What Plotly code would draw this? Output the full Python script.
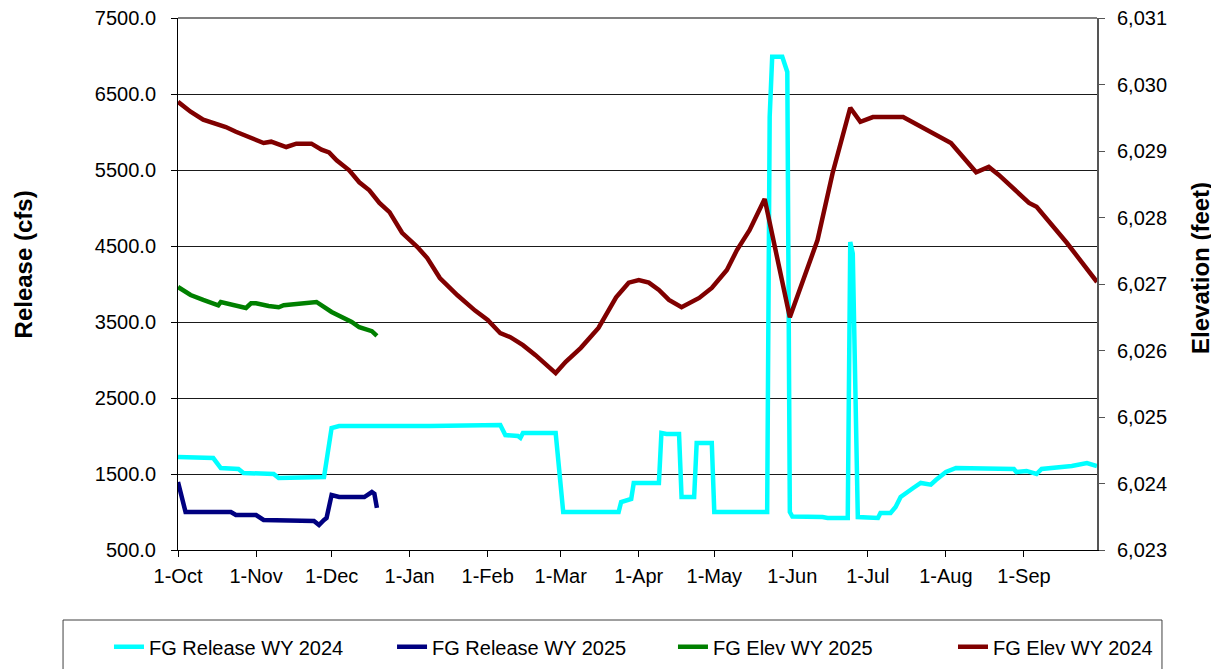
import plotly.graph_objects as go

# ---------------- data ----------------
rel24_dates = ["2023-10-01","2023-10-15","2023-10-18","2023-10-25","2023-10-27","2023-11-08","2023-11-10",
    "2023-11-27","2023-11-28","2023-12-01","2023-12-04","2024-01-09","2024-01-20","2024-02-06","2024-02-08",
    "2024-02-13","2024-02-14","2024-02-15","2024-02-28","2024-03-02","2024-03-24","2024-03-25","2024-03-29",
    "2024-03-30","2024-04-09","2024-04-10","2024-04-12","2024-04-17","2024-04-18","2024-04-23","2024-04-24",
    "2024-04-30","2024-05-01","2024-05-22","2024-05-23","2024-05-24","2024-05-28","2024-05-30","2024-05-31",
    "2024-06-01","2024-06-13","2024-06-15","2024-06-23","2024-06-24","2024-06-25","2024-06-27","2024-07-05",
    "2024-07-06","2024-07-10","2024-07-12","2024-07-14","2024-07-16","2024-07-19","2024-07-22","2024-07-26",
    "2024-07-28","2024-08-01","2024-08-05","2024-08-28","2024-08-29","2024-09-02","2024-09-06","2024-09-08",
    "2024-09-20","2024-09-26","2024-09-30"]
rel24_cfs = [1724,1710,1579,1566,1513,1500,1447,
    1447,1460,2105,2132,2132,2140,2145,2013,
    2000,1975,2040,2040,1000,1000,1131,1171,
    1381,1381,2040,2026,2026,1197,1197,1908,
    1908,1000,1000,6200,6990,6990,6790,1000,
    940,934,921,921,4553,4400,934,921,
    987,987,1066,1197,1250,1316,1382,1360,
    1421,1526,1579,1566,1526,1540,1500,1566,
    1605,1645,1605]

rel25_dates = ["2023-10-01","2023-10-03","2023-10-04","2023-10-22","2023-10-24","2023-11-01","2023-11-04",
    "2023-11-24","2023-11-26","2023-11-28","2023-11-29","2023-12-01","2023-12-04","2023-12-14","2023-12-17",
    "2023-12-18","2023-12-19"]
rel25_cfs = [1395,1118,1000,1000,960,960,895,
    882,829,895,921,1224,1197,1197,1263,
    1240,1053]

elev25_dates = ["2023-10-01","2023-10-06","2023-10-11","2023-10-17","2023-10-18","2023-10-22","2023-10-28",
    "2023-10-30","2023-11-01","2023-11-06","2023-11-10","2023-11-12","2023-11-24","2023-11-25","2023-12-01",
    "2023-12-04","2023-12-09","2023-12-12","2023-12-15","2023-12-17","2023-12-19"]
elev25_ft = [6026.955,6026.835,6026.76,6026.68,6026.73,6026.70,6026.64,
    6026.71,6026.71,6026.67,6026.65,6026.68,6026.74,6026.73,6026.58,
    6026.53,6026.43,6026.35,6026.31,6026.29,6026.22]

elev24_dates = ["2023-10-01","2023-10-06","2023-10-11","2023-10-20","2023-10-24","2023-10-29","2023-11-04",
    "2023-11-07","2023-11-13","2023-11-17","2023-11-23","2023-11-27","2023-11-30","2023-12-03","2023-12-08",
    "2023-12-12","2023-12-16","2023-12-20","2023-12-24","2023-12-29","2024-01-04","2024-01-08","2024-01-13",
    "2024-01-20","2024-01-27","2024-02-01","2024-02-06","2024-02-10","2024-02-15","2024-02-20","2024-02-25",
    "2024-02-28","2024-03-03","2024-03-09","2024-03-16","2024-03-23","2024-03-28","2024-04-01","2024-04-05",
    "2024-04-09","2024-04-13","2024-04-18","2024-04-25","2024-04-30","2024-05-06","2024-05-10","2024-05-15",
    "2024-05-21","2024-05-31","2024-06-11","2024-06-17","2024-06-24","2024-06-28","2024-07-03","2024-07-15",
    "2024-07-27","2024-08-03","2024-08-13","2024-08-18","2024-08-22","2024-09-03","2024-09-06","2024-09-18",
    "2024-09-30"]
elev24_ft = [6029.74,6029.59,6029.47,6029.36,6029.29,6029.21,6029.12,
    6029.14,6029.06,6029.11,6029.11,6029.02,6028.98,6028.86,6028.71,
    6028.53,6028.41,6028.22,6028.08,6027.77,6027.56,6027.39,6027.09,
    6026.83,6026.60,6026.46,6026.26,6026.20,6026.08,6025.93,6025.77,
    6025.66,6025.83,6026.04,6026.34,6026.80,6027.02,6027.06,6027.02,
    6026.91,6026.76,6026.65,6026.79,6026.94,6027.21,6027.51,6027.81,
    6028.28,6026.50,6027.66,6028.67,6029.65,6029.44,6029.51,6029.51,
    6029.27,6029.12,6028.68,6028.76,6028.64,6028.22,6028.16,6027.62,
    6027.03]

month_ticks = ["2023-10-01","2023-11-01","2023-12-01","2024-01-01","2024-02-01","2024-03-01","2024-04-01",
    "2024-05-01","2024-06-01","2024-07-01","2024-08-01","2024-09-01"]
month_labels = ["1-Oct","1-Nov","1-Dec","1-Jan","1-Feb","1-Mar","1-Apr","1-May","1-Jun","1-Jul","1-Aug","1-Sep"]

series_names = ["FG Release WY 2024", "FG Release WY 2025", "FG Elev WY 2025", "FG Elev WY 2024"]
series_colors = ["#00FFFF", "#000080", "#008000", "#800000"]

FONT = "Liberation Sans, Arial, sans-serif"
FS = 20
LW = 4.5

fig = go.Figure()
fig.add_trace(go.Scatter(x=rel24_dates, y=rel24_cfs, name=series_names[0], mode="lines",
                         legend="legend", line=dict(color=series_colors[0], width=LW)))
fig.add_trace(go.Scatter(x=rel25_dates, y=rel25_cfs, name=series_names[1], mode="lines",
                         legend="legend2", line=dict(color=series_colors[1], width=LW)))
fig.add_trace(go.Scatter(x=elev25_dates, y=elev25_ft, name=series_names[2], mode="lines", yaxis="y2",
                         legend="legend3", line=dict(color=series_colors[2], width=LW)))
fig.add_trace(go.Scatter(x=elev24_dates, y=elev24_ft, name=series_names[3], mode="lines", yaxis="y2",
                         legend="legend4", line=dict(color=series_colors[3], width=LW)))

def leg(xpos):
    return dict(orientation="h", x=xpos, y=-0.182, xanchor="left", yanchor="middle",
                font=dict(family=FONT, size=FS, color="black"),
                bgcolor="rgba(0,0,0,0)", borderwidth=0)

# page has an 8px body margin, so the figure is 8px smaller and margins shifted by 8px
fig.update_layout(
    width=1211, height=661,
    margin=dict(l=170, r=122, t=10, b=119, autoexpand=False),
    paper_bgcolor="white", plot_bgcolor="white",
    font=dict(family=FONT, size=FS, color="black"),
    showlegend=True,
    legend=leg(-0.0751),
    legend2=leg(0.2329),
    legend3=leg(0.5386),
    legend4=leg(0.8433),
    xaxis=dict(type="date", range=["2023-10-01", "2024-09-30"],
               tickvals=month_ticks, ticktext=month_labels,
               ticks="outside", ticklen=6, tickcolor="black", ticklabelstandoff=2,
               showline=True, linecolor="black", linewidth=1,
               showgrid=False, zeroline=False, automargin=False,
               tickfont=dict(family=FONT, size=FS, color="black")),
    yaxis=dict(range=[500, 7500], tick0=500, dtick=1000, tickformat=".1f",
               ticks="outside", ticklen=6, tickcolor="black", ticklabelstandoff=11,
               ticklabeloverflow="allow",
               showline=True, linecolor="black", linewidth=1, automargin=False,
               showgrid=True, gridcolor="#1a1a1a", gridwidth=1, zeroline=False,
               tickfont=dict(family=FONT, size=FS, color="black")),
    yaxis2=dict(range=[6023, 6031], dtick=1, tickformat=",d", overlaying="y", side="right",
                ticks="outside", ticklen=6, tickcolor="#555555", ticklabelstandoff=8, automargin=False,
                ticklabeloverflow="allow",
                showline=True, linecolor="#555555", linewidth=2,
                showgrid=False, zeroline=False,
                tickfont=dict(family=FONT, size=FS, color="black")),
    annotations=[
        dict(text="<b>Release (cfs)</b>", xref="paper", yref="paper", x=-0.168, y=0.536,
             textangle=-90, showarrow=False, xanchor="center", yanchor="middle",
             font=dict(family=FONT, size=24, color="black")),
        dict(text="<b>Elevation (feet)</b>", xref="paper", yref="paper", x=1.112, y=0.530,
             textangle=-90, showarrow=False, xanchor="center", yanchor="middle",
             font=dict(family=FONT, size=24, color="black")),
    ],
    shapes=[
        dict(type="line", xref="paper", yref="paper", x0=0, x1=1, y0=1, y1=1,
             line=dict(color="#808080", width=2)),
        dict(type="rect", xref="paper", yref="paper", x0=-0.1251, x1=1.0707, y0=-0.1316, y1=-0.27,
             line=dict(color="#404040", width=1), fillcolor="rgba(0,0,0,0)", layer="below"),
    ],
)

fig.write_html("out.html")
